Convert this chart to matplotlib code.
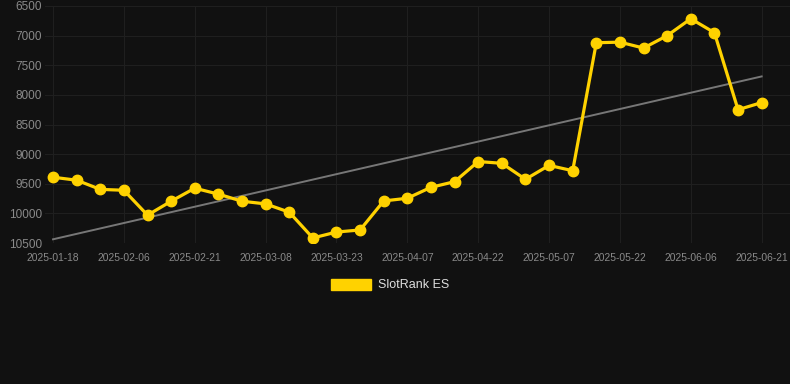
import matplotlib
matplotlib.use('Agg')
import matplotlib.pyplot as plt
import numpy as np

# data
dates = ['2025-01-18', '2025-01-25', '2025-02-01', '2025-02-06', '2025-02-11', '2025-02-16',
         '2025-02-21', '2025-02-26', '2025-03-03', '2025-03-08', '2025-03-13', '2025-03-18',
         '2025-03-23', '2025-03-28', '2025-04-02', '2025-04-07', '2025-04-12', '2025-04-17',
         '2025-04-22', '2025-04-27', '2025-05-02', '2025-05-07', '2025-05-12', '2025-05-17',
         '2025-05-22', '2025-05-27', '2025-06-01', '2025-06-06', '2025-06-11', '2025-06-16',
         '2025-06-21']
rank = [9390, 9440, 9595, 9610, 10030, 9795, 9575, 9675, 9795, 9840,
        9980, 10415, 10315, 10280, 9790, 9745, 9560, 9465, 9125, 9155,
        9425, 9190, 9280, 7120, 7110, 7210, 7000, 6715, 6950, 8250, 8130]
series_name = 'SlotRank ES'
y_ticks = [6500, 7000, 7500, 8000, 8500, 9000, 9500, 10000, 10500]

bg = '#111111'
gold = '#FFD200'

plt.rcParams['font.family'] = ['Liberation Sans', 'DejaVu Sans']

fig = plt.figure(figsize=(7.9, 3.84), dpi=100, facecolor=bg)
ax = fig.add_axes([45 / 790, 1 - 243 / 384, 745 / 790, 237 / 384], facecolor=bg)

x = np.arange(len(rank))

# linear trend
coef = np.polyfit(x, rank, 1)
ax.plot(x, np.polyval(coef, x), color='#777777', linewidth=1.4, zorder=2)

ax.plot(x, rank, color=gold, linewidth=2.3, marker='o', markersize=7.5,
        markerfacecolor=gold, markeredgecolor=gold, zorder=3, label=series_name)

ax.set_ylim(10500, 6500)
ax.set_xlim(-0.34, 31.2)
ax.set_yticks(y_ticks)
ax.set_yticklabels([str(v) for v in y_ticks])
ax.set_xticks(x[::3])
ax.set_xticklabels(dates[::3])

ax.grid(True, color='#1f1f1f', linewidth=0.8)
ax.set_axisbelow(True)
for s in ax.spines.values():
    s.set_visible(False)
ax.tick_params(axis='y', colors='#8a8a8a', labelsize=8.5, length=0, pad=2)
ax.tick_params(axis='x', colors='#8a8a8a', labelsize=7.4, length=0, pad=7)

handle = plt.Rectangle((0, 0), 1, 1, facecolor=gold, edgecolor=gold)
leg = fig.legend([handle], [series_name], loc='center', bbox_to_anchor=(390 / 790, 1 - 285 / 384),
                 frameon=False, fontsize=9, handlelength=3.2, handleheight=1.0,
                 handletextpad=0.5)
for t in leg.get_texts():
    t.set_color('#dddddd')

fig.savefig('out.png', dpi=100, facecolor=bg)
